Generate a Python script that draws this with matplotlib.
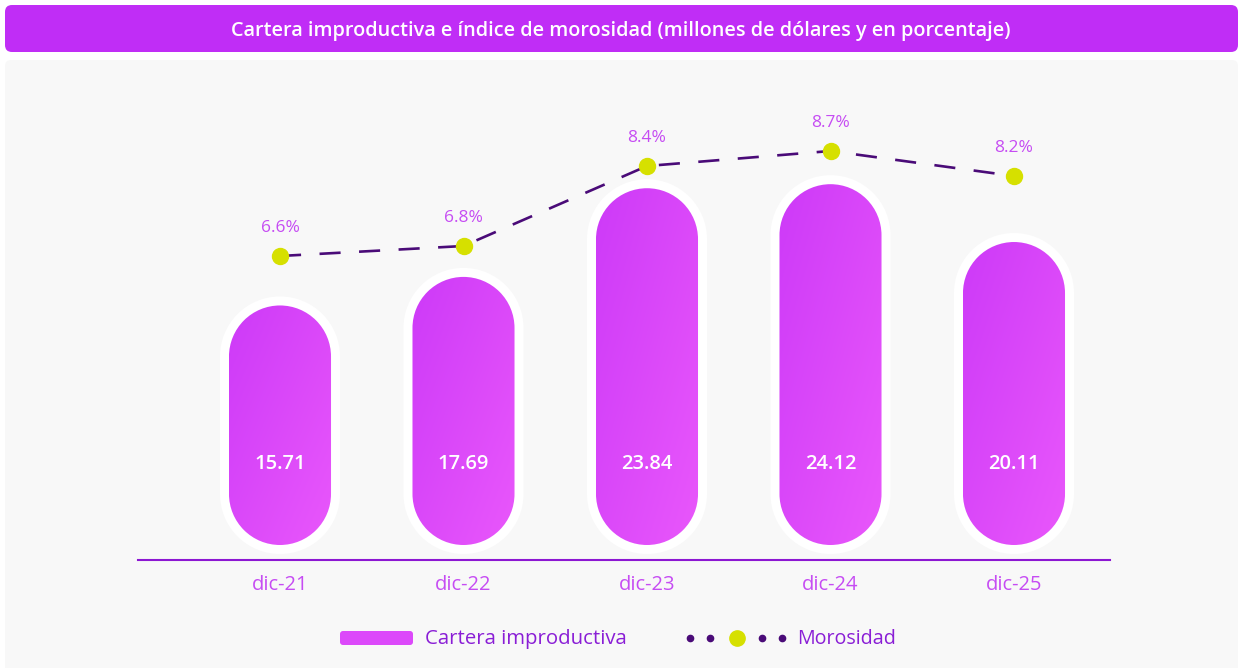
import matplotlib
matplotlib.use("Agg")
import matplotlib.pyplot as plt
import numpy as np
from matplotlib.patches import FancyBboxPatch, PathPatch
from matplotlib.path import Path
from matplotlib.colors import LinearSegmentedColormap
from matplotlib.transforms import IdentityTransform, blended_transform_factory

# datos
periodos = ["dic-21", "dic-22", "dic-23", "dic-24", "dic-25"]
cartera = [15.71, 17.69, 23.84, 24.12, 20.11]
morosidad = [6.6, 6.8, 8.4, 8.7, 8.2]
titulo = "Cartera improductiva e índice de morosidad (millones de dólares y en porcentaje)"

W, H = 1244, 668
plt.rcParams["font.family"] = ["Open Sans", "DejaVu Sans"]

MORADO = "#C02DF6"
ROSA = "#C64CF3"
OSCURO = "#4A0B78"
AMARILLO = "#D6E000"

fig = plt.figure(figsize=(W / 100, H / 100), dpi=100)
fig.patch.set_facecolor("white")

# capa de fondo en pixeles
bg = fig.add_axes([0, 0, 1, 1], zorder=0)
bg.axis("off")


def caja(ax, x0, y0, x1, y1, r, color):
    ax.add_patch(FancyBboxPatch((x0, y0), x1 - x0, y1 - y0,
                                boxstyle=f"round,pad=0,rounding_size={r}",
                                fc=color, ec="none"))


def pildora(cx, yb, yt, r):
    # forma de capsula en coordenadas de pantalla
    arco_sup = Path.arc(0, 180)
    arco_inf = Path.arc(180, 360)
    v1 = arco_sup.vertices * r + [cx, yt - r]
    v2 = arco_inf.vertices * r + [cx, yb + r]
    c2 = arco_inf.codes.copy()
    c2[0] = Path.LINETO
    verts = np.vstack([v1, v2, v1[:1]])
    codes = np.concatenate([arco_sup.codes, c2, [Path.CLOSEPOLY]])
    return Path(verts, codes)


caja(bg, 5, 60, 1238, 680, 6, "#F8F8F8")
caja(bg, 5, 5, 1238, 52, 7, MORADO)
bg.text(621, 31, titulo, color="white", fontsize=14.3, fontweight="semibold",
        ha="center", va="center")

# leyenda
caja(bg, 340, 631, 413, 645, 3, "#DC49FA")
bg.text(425, 639, "Cartera improductiva", color="#8A1ED6", fontsize=14.7, va="center")
bg.plot([690, 710, 762, 782], [638] * 4, "o", ms=4.5, color=OSCURO, ls="none")
bg.plot(737, 638, "o", ms=11, color=AMARILLO)
bg.text(797, 639, "Morosidad", color="#8A1ED6", fontsize=14.2, va="center")
bg.set_xlim(0, W)
bg.set_ylim(H, 0)

# eje principal (barras)
ax = fig.add_axes([138 / W, 1 - 560 / H, 972 / W, 460 / H], zorder=1)
ax.patch.set_visible(False)
x = np.arange(len(periodos))
xlim = (-142 / 183.5, -142 / 183.5 + 972 / 183.5)
ylim = (-28 / 14.42, 432 / 14.42)
ax.set_xlim(*xlim)
ax.set_ylim(*ylim)
ax.set_autoscale_on(False)

base = -13 / 14.42
media = 0.278
halo = 9
grad = np.linspace(0, 1, 64)[None, :] + np.linspace(0, 1, 64)[:, None]
cmap = LinearSegmentedColormap.from_list("rosa", ["#CD3AF8", "#E957FB"])

for i, v in enumerate(cartera):
    (x0, y0), (x1, y1) = ax.transData.transform([(i - media, base), (i + media, v)])
    r = (x1 - x0) / 2
    cx = (x0 + x1) / 2
    ax.add_patch(PathPatch(pildora(cx, y0 - halo, y1 + halo, r + halo),
                           transform=IdentityTransform(), fc="white", ec="none",
                           zorder=2))
    pill = PathPatch(pildora(cx, y0, y1, r), transform=IdentityTransform(),
                     fc="none", ec="none", zorder=3)
    ax.add_patch(pill)
    im = ax.imshow(grad, cmap=cmap, extent=(i - media, i + media, base, v),
                   origin="upper", aspect="auto", zorder=3, interpolation="bilinear")
    im.set_clip_path(pill)

trans = blended_transform_factory(ax.transData, ax.transAxes)
for i, v in enumerate(cartera):
    ax.text(i, (560 - 464) / 460, f"{v:.2f}", transform=trans, ha="center",
            va="center", color="white", fontsize=14.5, fontweight="semibold", zorder=5)

for s in ["top", "left", "right"]:
    ax.spines[s].set_visible(False)
ax.spines["bottom"].set_color("#8C17D2")
ax.spines["bottom"].set_linewidth(1.5)
ax.set_xticks(x, periodos)
ax.set_yticks([])
ax.tick_params(axis="x", length=0, pad=11, labelcolor=ROSA, labelsize=14.5)

# eje secundario (morosidad)
ax2 = ax.twinx()
ax2.set_ylim(26 / 50, 486 / 50)
ax2.plot(x, morosidad, color=OSCURO, lw=1.9, ls=(0, (8, 7)), zorder=3)
ax2.plot(x, morosidad, "o", ms=11.5, color=AMARILLO, zorder=4, ls="none")
for i, m in enumerate(morosidad):
    ax2.annotate(f"{m}%", (i, m), xytext=(0, 20), textcoords="offset points",
                 ha="center", va="center", color=ROSA, fontsize=12.5)
for s in ax2.spines.values():
    s.set_visible(False)
ax2.set_yticks([])
ax.set_xlim(*xlim)
ax.set_ylim(*ylim)

fig.savefig("out.png", dpi=100)
